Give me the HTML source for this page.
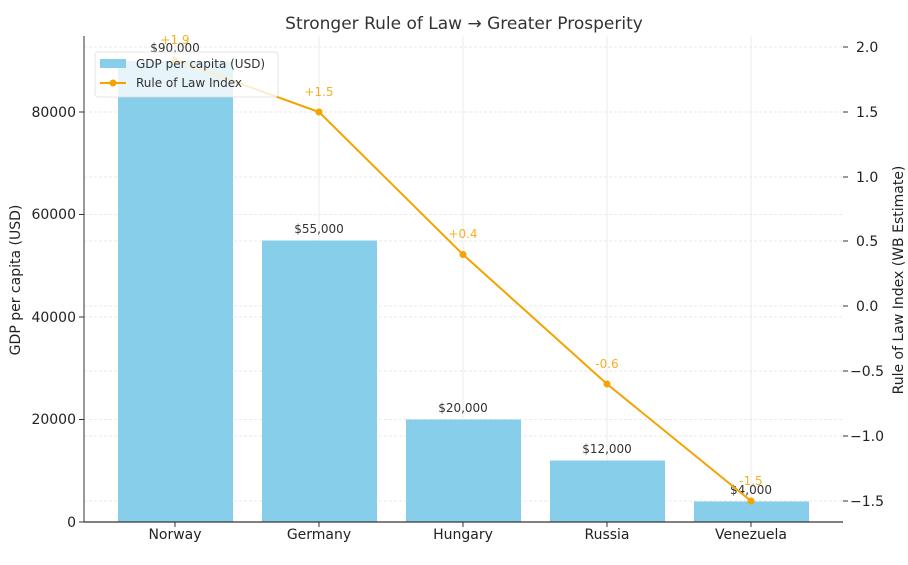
<!DOCTYPE html>
<html><head><meta charset="utf-8"><style>body{margin:0;background:#fff}svg{display:block}text{font-family:"DejaVu Sans","Liberation Sans",sans-serif}</style></head>
<body>
<svg width="908" height="565" viewBox="0 0 908 565">
<text x="464" y="29" text-anchor="middle" font-size="17" fill="#333">Stronger Rule of Law → Greater Prosperity</text>
<g stroke="#e3e3e3" stroke-width="0.8" stroke-dasharray="3,2">
<line x1="84" x2="843" y1="419.5" y2="419.5"/><line x1="84" x2="843" y1="317" y2="317"/><line x1="84" x2="843" y1="214.5" y2="214.5"/><line x1="84" x2="843" y1="112" y2="112"/>
<line x1="84" x2="843" y1="501" y2="501"/><line x1="84" x2="843" y1="436" y2="436"/><line x1="84" x2="843" y1="371" y2="371"/><line x1="84" x2="843" y1="306" y2="306"/><line x1="84" x2="843" y1="241" y2="241"/><line x1="84" x2="843" y1="177" y2="177"/><line x1="84" x2="843" y1="47" y2="47"/>
</g>
<g stroke="#e6e6e6" stroke-width="0.8"><line x1="175" x2="175" y1="36" y2="522"/><line x1="319" x2="319" y1="36" y2="522"/><line x1="463" x2="463" y1="36" y2="522"/><line x1="607" x2="607" y1="36" y2="522"/><line x1="751" x2="751" y1="36" y2="522"/></g>
<g fill="#87ceeb">
<rect x="118" y="61" width="115" height="461"/><rect x="262" y="240.5" width="115" height="281.5"/><rect x="406" y="419.5" width="115" height="102.5"/><rect x="550" y="460.5" width="115" height="61.5"/><rect x="694" y="501.5" width="115" height="20.5"/>
</g>
<g font-size="12" fill="#333" text-anchor="middle">
<text x="175" y="52">$90,000</text><text x="319" y="233">$55,000</text><text x="463" y="412">$20,000</text><text x="607" y="453">$12,000</text><text x="751" y="494">$4,000</text>
</g>
<polyline points="175,60 319,112 463,254.5 607,384 751,501" fill="none" stroke="#f5a300" stroke-width="2"/>
<g fill="#f5a300"><circle cx="175" cy="60" r="3.5"/><circle cx="319" cy="112" r="3.5"/><circle cx="463" cy="254.5" r="3.5"/><circle cx="607" cy="384" r="3.5"/><circle cx="751" cy="501" r="3.5"/></g>
<g font-size="12" fill="#f5a300" text-anchor="middle" opacity="0.85">
<text x="175" y="44">+1.9</text><text x="319" y="96">+1.5</text><text x="463" y="238">+0.4</text><text x="607" y="368">-0.6</text><text x="751" y="485">-1.5</text>
</g>
<line x1="84" x2="84" y1="36" y2="522" stroke="#333" stroke-width="1"/>
<line x1="84" x2="843" y1="522" y2="522" stroke="#333" stroke-width="1.2"/>
<g stroke="#333"><line x1="79" x2="84" y1="522" y2="522"/><line x1="79" x2="84" y1="419.5" y2="419.5"/><line x1="79" x2="84" y1="317" y2="317"/><line x1="79" x2="84" y1="214.5" y2="214.5"/><line x1="79" x2="84" y1="112" y2="112"/>
<line x1="843" x2="848" y1="501" y2="501"/><line x1="843" x2="848" y1="436" y2="436"/><line x1="843" x2="848" y1="371" y2="371"/><line x1="843" x2="848" y1="306" y2="306"/><line x1="843" x2="848" y1="241" y2="241"/><line x1="843" x2="848" y1="177" y2="177"/><line x1="843" x2="848" y1="112" y2="112"/><line x1="843" x2="848" y1="47" y2="47"/>
<line x1="175" x2="175" y1="522" y2="527"/><line x1="319" x2="319" y1="522" y2="527"/><line x1="463" x2="463" y1="522" y2="527"/><line x1="607" x2="607" y1="522" y2="527"/><line x1="751" x2="751" y1="522" y2="527"/></g>
<g font-size="14" fill="#222" text-anchor="end">
<text x="76" y="527">0</text><text x="76" y="424">20000</text><text x="76" y="322">40000</text><text x="76" y="219">60000</text><text x="76" y="117">80000</text>
</g>
<g font-size="14" fill="#222">
<text x="850" y="506">−1.5</text><text x="850" y="441">−1.0</text><text x="850" y="376">−0.5</text><text x="856" y="311">0.0</text><text x="856" y="246">0.5</text><text x="856" y="182">1.0</text><text x="856" y="117">1.5</text><text x="856" y="52">2.0</text>
</g>
<g font-size="14" fill="#222" text-anchor="middle">
<text x="175" y="539">Norway</text><text x="319" y="539">Germany</text><text x="463" y="539">Hungary</text><text x="607" y="539">Russia</text><text x="751" y="539">Venezuela</text>
</g>
<text transform="translate(20,280) rotate(-90)" font-size="14" fill="#222" text-anchor="middle">GDP per capita (USD)</text>
<text transform="translate(903,280) rotate(-90)" font-size="14" fill="#222" text-anchor="middle">Rule of Law Index (WB Estimate)</text>
<rect x="95" y="52" width="183" height="45" rx="3" fill="#fff" fill-opacity="0.8" stroke="#ddd" stroke-width="0.8"/>
<rect x="100" y="59" width="26" height="9" fill="#87ceeb"/>
<text x="136" y="68" font-size="12" fill="#333">GDP per capita (USD)</text>
<line x1="100" x2="126" y1="83" y2="83" stroke="#f5a300" stroke-width="2"/><circle cx="113" cy="83" r="3.5" fill="#f5a300"/>
<text x="136" y="87" font-size="12" fill="#333">Rule of Law Index</text>
</svg>
</body></html>
